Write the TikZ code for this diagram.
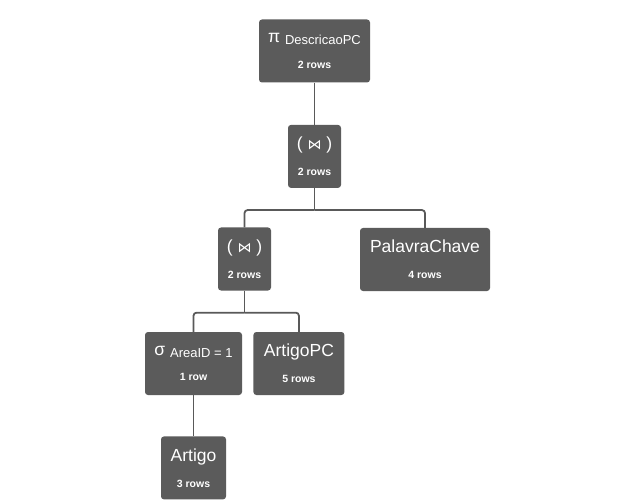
\documentclass[tikz,border=0pt]{standalone}
\usepackage{fontspec}
\setmainfont{Liberation Sans}
\newfontfamily\symfont{DejaVu Sans}
\usetikzlibrary{positioning}

\definecolor{opgray}{HTML}{5B5B5B}
\definecolor{linkgray}{HTML}{595959}

\tikzset{
  opnode/.style={fill=opgray, rounded corners=3pt, text=white, align=center,
    minimum height=63pt, inner sep=0pt, font=\fontsize{17.5}{20}\selectfont},
  link/.style={draw=linkgray, line width=1.8pt},
}
\newcommand{\rowcount}[1]{\\[5.8pt]{\fontsize{10.5}{12}\selectfont\bfseries #1}}
\newcommand{\opsub}[1]{{\fontsize{13}{14}\selectfont\raisebox{-2pt}{#1}}}
\newcommand{\joinsym}{( {\symfont\fontsize{14}{15}\selectfont ⋈} )}

\begin{document}
\begin{tikzpicture}[x=1pt, y=-1pt]
    \useasboundingbox (0,0) rectangle (630,500);

    % Operators
    \node[opnode, minimum width=111pt] (proj) at (314.5,51) {π \opsub{DescricaoPC}\rowcount{2 rows}};
    \node[opnode, minimum width=53pt, below=42pt of proj] (join1) {\joinsym\rowcount{2 rows}};
    \node[opnode, minimum width=53pt] (join2) at (244.5,259) {\joinsym\rowcount{2 rows}};
    \node[opnode, minimum width=97pt] (sel) at (193.5,363.5) {σ \opsub{AreaID = 1}\rowcount{1 row}};

    % Relations
    \node[opnode, minimum width=130pt] (palavra) at (425,259.5) {PalavraChave\rowcount{4 rows}};
    \node[opnode, minimum width=91pt, right=11pt of sel] (artigopc) {ArtigoPC\rowcount{5 rows}};
    \node[opnode, minimum width=65pt, below=41pt of sel] (artigo) {Artigo\rowcount{3 rows}};

    % Links
    \draw[link] (proj) -- (join1);
    \draw[link] (join1.south) -- ++(0,22) coordinate (fork1);
    \draw[link, rounded corners=3pt] (fork1) -| (join2.north);
    \draw[link, rounded corners=3pt] (fork1) -| (palavra.north);
    \draw[link] (join2.south) -- ++(0,22) coordinate (fork2);
    \draw[link, rounded corners=3pt] (fork2) -| (sel.north);
    \draw[link, rounded corners=3pt] (fork2) -| (artigopc.north);
    \draw[link] (sel) -- (artigo);
\end{tikzpicture}
\end{document}
